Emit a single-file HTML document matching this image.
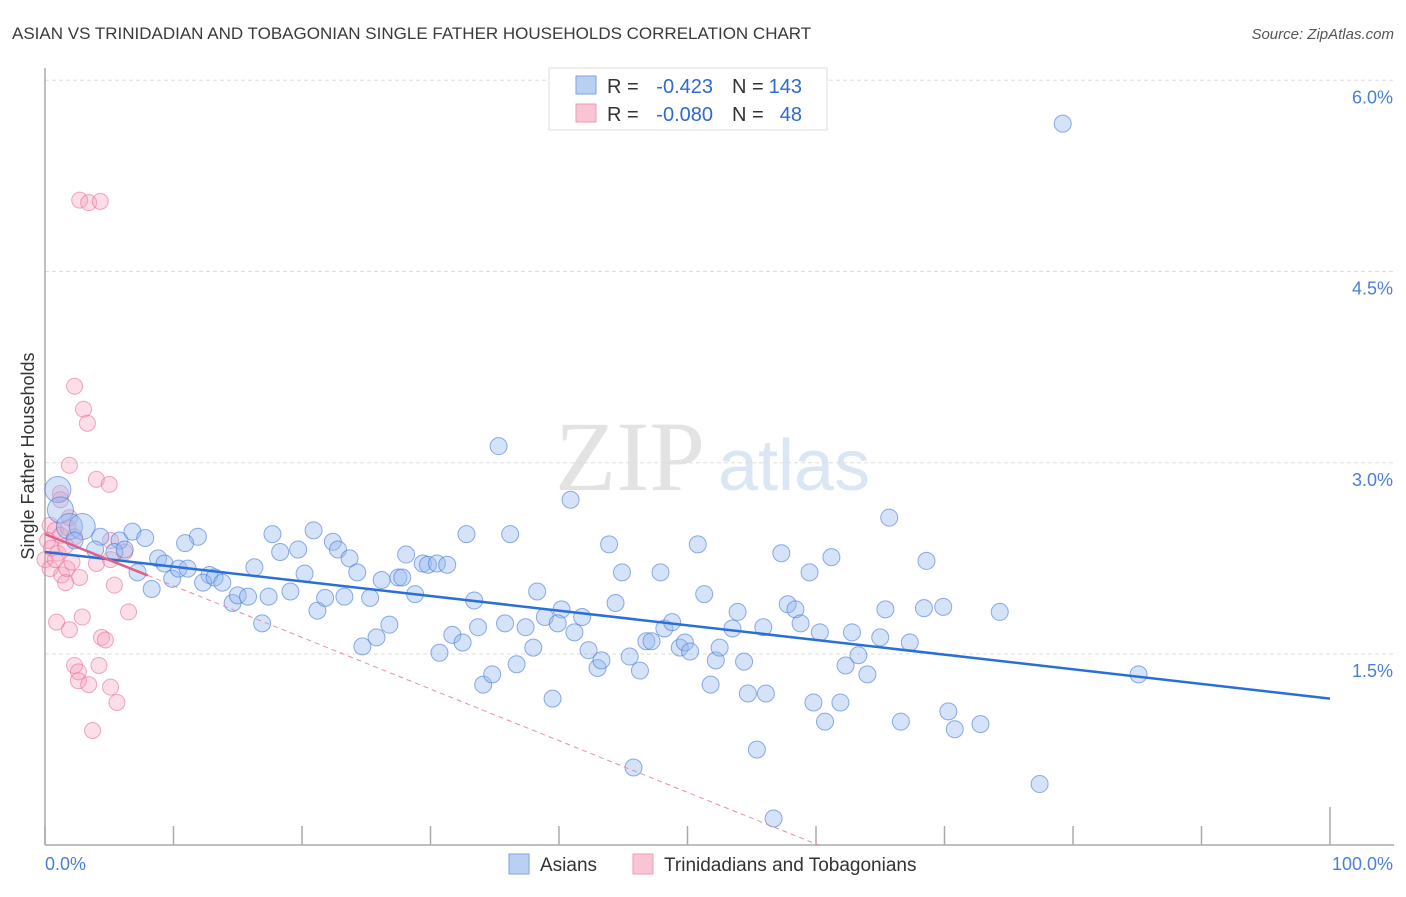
<!DOCTYPE html>
<html><head><meta charset="utf-8"><style>
body{margin:0;background:#fff;font-family:"Liberation Sans",sans-serif}
svg text{font-family:"Liberation Sans",sans-serif}
</style></head><body>
<svg width="1406" height="892" viewBox="0 0 1406 892">
<text x="12" y="39" font-size="17" fill="#3a3a3a">ASIAN VS TRINIDADIAN AND TOBAGONIAN SINGLE FATHER HOUSEHOLDS CORRELATION CHART</text>
<text x="1394" y="39" font-size="15" fill="#555" font-style="italic" text-anchor="end">Source: ZipAtlas.com</text>
<text x="555" y="490" font-size="100" fill="#e3e3e3" font-family="Liberation Serif" style="font-family:'Liberation Serif',serif">ZIP</text>
<text x="718" y="490" font-size="72" fill="#dbe6f5">atlas</text>
<g id="grid"></g>
<g id="axes"></g>
<g id="pts"></g>
<g id="trends"></g>
<text transform="translate(34,456) rotate(-90)" font-size="18" fill="#333" text-anchor="middle">Single Father Households</text>
<g>
<rect x="549" y="68" width="278" height="62" fill="#fff" stroke="#ddd"/>
<rect x="576" y="76" width="20" height="18" fill="#b9d0f3" stroke="#7aa3e3"/>
<rect x="576" y="104" width="20" height="18" fill="#f9c5d5" stroke="#ee9ab5"/>
<text x="607" y="93" font-size="20" fill="#333">R =</text>
<text x="713" y="93" font-size="20" fill="#2f6ad0" text-anchor="end">-0.423</text>
<text x="732" y="93" font-size="20" fill="#333">N =</text>
<text x="802" y="93" font-size="20" fill="#2f6ad0" text-anchor="end">143</text>
<text x="607" y="121" font-size="20" fill="#333">R =</text>
<text x="713" y="121" font-size="20" fill="#2f6ad0" text-anchor="end">-0.080</text>
<text x="732" y="121" font-size="20" fill="#333">N =</text>
<text x="802" y="121" font-size="20" fill="#2f6ad0" text-anchor="end">48</text>
</g>
<g>
<rect x="509" y="854" width="20" height="20" fill="#b9d0f3" stroke="#7aa3e3"/>
<text x="540" y="871" font-size="19" fill="#333">Asians</text>
<rect x="633" y="854" width="20" height="20" fill="#f9c5d5" stroke="#ee9ab5"/>
<text x="664" y="871" font-size="19" fill="#333">Trinidadians and Tobagonians</text>
</g>
</svg>
<script>
const yTicks=[1.5,3.0,4.5,6.0];
const yTickLabels=["1.5%","3.0%","4.5%","6.0%"];
const xTicks=[0,10,20,30,40,50,60,70,80,90,100];
const asianX=[79.2,35.3,40.9,65.7,1.0,1.2,1.9,2.9,4.3,5.8,6.8,5.4,7.8,8.8,9.3,7.2,8.3,9.9,10.4,11.1,11.9,10.9,12.8,12.3,13.2,13.8,14.6,15.0,15.8,16.3,16.9,17.4,17.7,18.3,19.1,19.7,20.2,20.9,21.2,21.8,22.4,22.8,23.3,23.7,24.3,24.7,25.3,25.8,26.2,26.8,27.5,27.8,28.1,28.8,29.4,29.8,30.5,31.3,30.7,31.7,32.5,32.8,33.4,33.7,34.1,34.8,35.8,36.2,36.7,37.4,38.0,38.3,38.9,39.5,40.2,39.9,41.2,41.8,42.3,43.0,43.3,43.9,44.4,44.9,45.5,46.3,45.8,46.8,47.2,47.9,48.2,48.8,49.4,49.8,50.2,50.8,51.3,51.8,52.2,52.5,53.5,53.9,54.4,54.7,55.4,55.9,56.1,56.7,57.3,57.8,58.4,58.8,59.5,59.8,60.3,60.7,61.2,61.9,62.3,62.8,63.3,64.0,65.0,65.4,66.6,67.3,68.4,68.6,69.9,70.3,70.8,72.8,74.3,77.4,85.1,2.3,3.9,6.2];
const asianY=[5.66,3.13,2.71,2.57,2.79,2.63,2.50,2.50,2.42,2.39,2.46,2.30,2.41,2.25,2.21,2.14,2.01,2.09,2.17,2.17,2.42,2.37,2.12,2.06,2.10,2.06,1.90,1.96,1.95,2.18,1.74,1.95,2.44,2.30,1.99,2.32,2.13,2.47,1.84,1.94,2.38,2.32,1.95,2.25,2.14,1.56,1.94,1.63,2.08,1.73,2.10,2.10,2.28,1.97,2.21,2.20,2.21,2.20,1.51,1.65,1.59,2.44,1.92,1.71,1.26,1.34,1.74,2.44,1.42,1.71,1.55,1.99,1.79,1.15,1.85,1.74,1.67,1.79,1.53,1.39,1.45,2.36,1.90,2.14,1.48,1.37,0.61,1.60,1.60,2.14,1.70,1.75,1.55,1.59,1.52,2.36,1.97,1.26,1.45,1.55,1.70,1.83,1.44,1.19,0.75,1.71,1.19,0.21,2.29,1.89,1.85,1.74,2.14,1.12,1.67,0.97,2.26,1.12,1.41,1.67,1.49,1.34,1.63,1.85,0.97,1.59,1.86,2.23,1.87,1.05,0.91,0.95,1.83,0.48,1.34,2.39,2.32,2.32];
const trinX=[2.7,3.4,4.3,2.3,3.0,3.3,1.9,4.0,5.0,1.2,0.4,0.8,1.2,1.8,2.3,0.2,0.5,1.0,1.6,0,0.4,0.8,1.3,1.7,2.1,2.7,4.0,5.1,5.4,1.6,0.9,1.9,2.9,6.5,4.4,4.7,2.3,2.6,2.6,3.4,4.2,5.1,5.6,3.7,5.1,1.9,1.2,6.2];
const trinY=[5.06,5.04,5.05,3.60,3.42,3.31,2.98,2.87,2.83,2.76,2.51,2.47,2.43,2.49,2.42,2.39,2.33,2.29,2.35,2.24,2.17,2.24,2.12,2.17,2.22,2.10,2.21,2.24,2.04,2.06,1.75,1.69,1.79,1.83,1.63,1.61,1.41,1.36,1.29,1.26,1.41,1.24,1.12,0.90,2.39,2.57,2.71,2.30];
const bigAsian=[4,5,6,7];
const asianTrend=[2.30,-0.0115];
const trinTrend=[2.44,-0.0405];
const NS="http://www.w3.org/2000/svg";
const X=v=>45+v*12.85, Y=v=>654-(v-1.5)*127.5;
function mk(tag,attrs,parent){const e=document.createElementNS(NS,tag);for(const k in attrs)e.setAttribute(k,attrs[k]);document.getElementById(parent).appendChild(e);return e;}
yTicks.forEach((t,i)=>{
 const l=mk('line',{x1:45,x2:1394,y1:Y(t),y2:Y(t),stroke:'#ddd','stroke-dasharray':'4,3'},'grid');
 
 
 const tx=mk('text',{x:1393,y:Y(t)+23,'font-size':18,fill:'#4a7fd6','text-anchor':'end'},'grid');
 tx.textContent=yTickLabels[i];
 
 
});
const ya=mk('line',{x1:45,x2:45,y1:68,y2:845,stroke:'#aaa','stroke-width':1.5},'axes');


const xa=mk('line',{x1:45,x2:1394,y1:845,y2:845,stroke:'#aaa','stroke-width':1.5},'axes');


xTicks.forEach(t=>{
 const tk=mk('line',{x1:X(t),x2:X(t),y1:t===100?807:826,y2:845,stroke:'#aaa','stroke-width':1.5},'axes');
 
 
});
const xl0=mk('text',{x:45,y:870,'font-size':18,fill:'#4a7fd6'},'axes');xl0.textContent='0.0%';


const xl1=mk('text',{x:1393,y:870,'font-size':18,fill:'#4a7fd6','text-anchor':'end'},'axes');xl1.textContent='100.0%';


trinX.forEach((v,i)=>{
 const c=mk('circle',{cx:X(v),cy:Y(trinY[i]),r:8,fill:'rgba(246,160,188,0.35)',stroke:'rgba(232,110,150,0.6)','stroke-width':1},'pts');
 
 
});
asianX.forEach((v,i)=>{
 const c=mk('circle',{cx:X(v),cy:Y(asianY[i]),r:bigAsian.includes(i)?13:8.5,fill:'rgba(150,185,240,0.4)',stroke:'rgba(70,120,215,0.6)','stroke-width':1},'pts');
 
 
});
const at=mk('line',{x1:X(0),y1:Y(asianTrend[0]),x2:X(100),y2:Y(asianTrend[0]+asianTrend[1]*100),stroke:'#2a6fd6','stroke-width':2.5},'trends');


const xz=-trinTrend[0]/trinTrend[1];
const td=mk('line',{x1:X(8),y1:Y(trinTrend[0]+trinTrend[1]*8),x2:X(xz),y2:Y(0),stroke:'#e88aa8','stroke-width':1,'stroke-dasharray':'5,4'},'trends');


const ts=mk('line',{x1:X(0),y1:Y(trinTrend[0]),x2:X(8),y2:Y(trinTrend[0]+trinTrend[1]*8),stroke:'#e0608a','stroke-width':2.5},'trends');


</script>
</body></html>
